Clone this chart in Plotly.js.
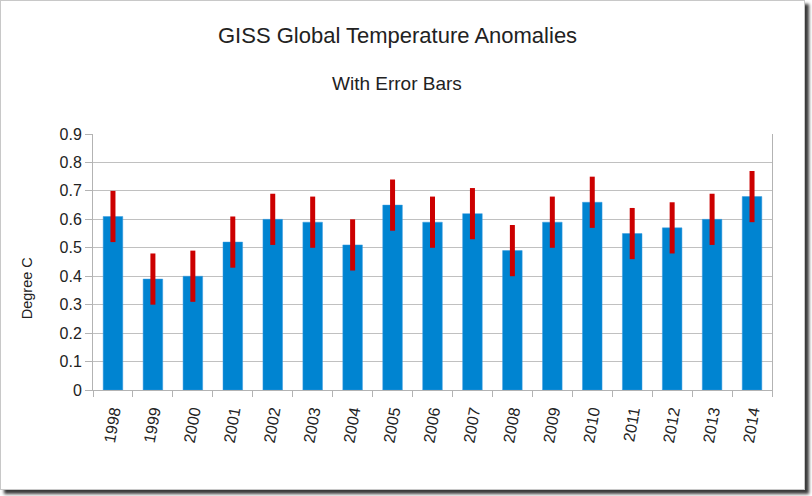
<!DOCTYPE html>
<html>
<head>
<meta charset="utf-8">
<script src="https://cdn.plot.ly/plotly-3.0.1.min.js"></script>
<style>
  html, body { margin: 0; padding: 0; background: #ffffff; }
  #frame {
    position: absolute; left: 0; top: 0;
    width: 803px; height: 488px;
    border: 1px solid #c8c8c8;
    box-shadow: 4px 4px 3px #3a3a3a;
    background: #ffffff;
  }
  #chart { width: 803px; height: 488px; }
</style>
</head>
<body>
<div id="frame"><div id="chart"></div></div>
<script>
const years = ['1998','1999','2000','2001','2002','2003','2004','2005','2006','2007','2008','2009','2010','2011','2012','2013','2014'];
const anomalies = [0.61, 0.39, 0.40, 0.52, 0.60, 0.59, 0.51, 0.65, 0.59, 0.62, 0.49, 0.59, 0.66, 0.55, 0.57, 0.60, 0.68];
const errors = [0.09, 0.09, 0.09, 0.09, 0.09, 0.09, 0.09, 0.09, 0.09, 0.09, 0.09, 0.09, 0.09, 0.09, 0.09, 0.09, 0.09];
const titleText = 'GISS Global Temperature Anomalies';
const subtitleText = 'With Error Bars';
const yTitle = 'Degree C';
const yTicks = [0, 0.1, 0.2, 0.3, 0.4, 0.5, 0.6, 0.7, 0.8, 0.9];

const font = 'Liberation Sans, Arial, sans-serif';

const trace = {
  type: 'bar',
  x: years,
  y: anomalies,
  width: 0.49,
  marker: { color: '#0084d1', line: { color: '#3b9be0', width: 0.5 } },
  error_y: { type: 'data', array: errors, visible: true, color: '#cc0000', thickness: 5, width: 0 },
  hoverinfo: 'x+y'
};

const layout = {
  width: 803, height: 488,
  margin: { l: 92, r: 32, t: 133, b: 99 },
  paper_bgcolor: 'rgba(0,0,0,0)',
  plot_bgcolor: '#ffffff',
  showlegend: false,
  font: { family: font, color: '#222222', size: 16 },
  xaxis: {
    type: 'category',
    tickangle: -80,
    ticks: 'outside', ticklen: 6, tickcolor: '#b3b3b3', tickson: 'boundaries',
    ticklabelstandoff: 5,
    showline: true, linecolor: '#b3b3b3', linewidth: 1,
    showgrid: false,
    tickfont: { family: font, size: 16, color: '#222222' }
  },
  yaxis: {
    range: [0, 0.9],
    tickvals: yTicks,
    ticktext: yTicks.map(v => String(v)),
    ticks: 'outside', ticklen: 7, tickcolor: '#b3b3b3',
    showline: true, mirror: true, linecolor: '#b3b3b3', linewidth: 1,
    showgrid: true, gridcolor: '#c0c0c0', gridwidth: 1,
    zeroline: false,
    tickfont: { family: font, size: 16, color: '#222222' }
  },
  annotations: [
    { text: titleText, xref: 'paper', yref: 'paper', x: 0.448, y: 1.383, xanchor: 'center', yanchor: 'middle', showarrow: false, font: { family: font, size: 22, color: '#222222' } },
    { text: subtitleText, xref: 'paper', yref: 'paper', x: 0.448, y: 1.199, xanchor: 'center', yanchor: 'middle', showarrow: false, font: { family: font, size: 19, color: '#222222' } },
    { text: yTitle, xref: 'paper', yref: 'paper', x: -0.097, y: 0.398, xanchor: 'center', yanchor: 'middle', textangle: -90, showarrow: false, font: { family: font, size: 14.5, color: '#222222' } }
  ]
};

Plotly.newPlot('chart', [trace], layout, { displayModeBar: false, staticPlot: true });
</script>
</body>
</html>
